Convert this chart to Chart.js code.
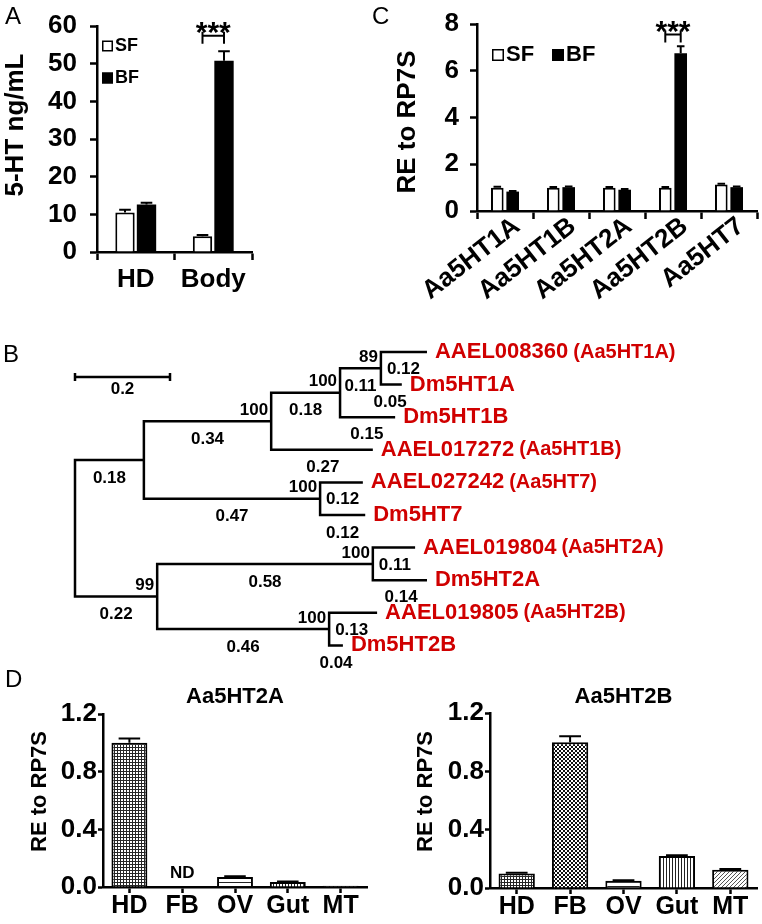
<!DOCTYPE html>
<html><head><meta charset="utf-8">
<script src="https://cdn.jsdelivr.net/npm/chart.js@4.4.0/dist/chart.umd.min.js"></script>
<style>
html,body{margin:0;padding:0;background:#fff;}
#wrap{position:relative;width:762px;height:924px;overflow:hidden;background:#fff;}
canvas{position:absolute;}
</style></head><body>
<div id="wrap">
<canvas id="cA" style="left:0px;top:0px" width="262" height="300"></canvas>
<canvas id="cC" style="left:370px;top:0px" width="392" height="310"></canvas>
<canvas id="cB" style="left:0px;top:300px" width="762" height="370"></canvas>
<canvas id="cD1" style="left:0px;top:660px" width="381" height="264"></canvas>
<canvas id="cD2" style="left:381px;top:660px" width="381" height="264"></canvas>
</div>
<script>
// ---------------- DATA ----------------
// Panel A
const catsA = ['HD', 'Body'];
const sfA = [10.5, 4.2];
const bfA = [12.6, 50.8];
const sfAErr = [0.7, 0.3];
const bfAErr = [0.5, 2.5];
const ticksA = [0, 10, 20, 30, 40, 50, 60];
const tickLabelsA = ['0', '10', '20', '30', '40', '50', '60'];
const sigACategory = 1;
const sigAValue = 57.4;
const sigAText = '***';

// Panel C
const catsC = ['Aa5HT1A', 'Aa5HT1B', 'Aa5HT2A', 'Aa5HT2B', 'Aa5HT7'];
const sfC = [1.0, 1.0, 1.0, 1.0, 1.13];
const bfC = [0.83, 1.02, 0.91, 6.75, 1.02];
const sfCErr = [0.04, 0.03, 0.03, 0.03, 0.04];
const bfCErr = [0.03, 0.03, 0.03, 0.3, 0.03];
const ticksC = [0, 2, 4, 6, 8];
const tickLabelsC = ['0', '2', '4', '6', '8'];
const sigCCategory = 3;
const sigCValue = 7.55;
const sigCText = '***';

// Panel D
const catsD = ['HD', 'FB', 'OV', 'Gut', 'MT'];
const valsD2A = [1.0, null, 0.07, 0.035, 0.008];
const errD2A = [0.03, 0, 0.005, 0.003, 0];
const ndD2A = ['', 'ND', '', '', ''];
const valsD2B = [0.10, 1.0, 0.05, 0.22, 0.125];
const errD2B = [0.005, 0.04, 0.003, 0.005, 0.005];
const ticksD = [0, 0.4, 0.8, 1.2];
const tickLabelsD = ['0.0', '0.4', '0.8', '1.2'];

// Panel B (tree): nodes, parents, drawn branch lengths (scale-bar units)
const treeNodes = ['root', 'n1', 'n2', 'n3', 'n4', 'n5', 'n6', 'n7', 'n8',
  'AAEL008360', 'Dm5HT1A', 'Dm5HT1B', 'AAEL017272', 'AAEL027242', 'Dm5HT7',
  'AAEL019804', 'Dm5HT2A', 'AAEL019805', 'Dm5HT2B'];
const treeParent = [-1, 0, 1, 2, 3, 1, 0, 6, 6, 4, 4, 3, 2, 5, 5, 7, 7, 8, 8];
const treeBranch = [0, 0.145, 0.268, 0.145, 0.086, 0.371, 0.173, 0.454, 0.362,
  0.097, 0.044, 0.116, 0.214, 0.090, 0.095, 0.089, 0.114, 0.101, 0.029];
const treeLeafOrder = [9, 10, 11, 12, 13, 14, 15, 16, 17, 18];
const treeLeafSuffix = ['(Aa5HT1A)', '', '', '(Aa5HT1B)', '(Aa5HT7)', '', '(Aa5HT2A)', '', '(Aa5HT2B)', ''];
const treeBootstrap = ['', '', '100', '100', '89', '100', '99', '100', '100',
  '', '', '', '', '', '', '', '', '', ''];
const treeLenLabel = ['', '0.18', '0.34', '0.18', '0.11', '0.47', '0.22', '0.58', '0.46',
  '', '', '0.05', '0.15', '0.27', '0.12', '', '', '0.14', '0.04'];
const treeInnerLabel = ['', '', '', '', '0.12', '0.12', '', '0.11', '0.13',
  '', '', '', '', '', '', '', '', '', ''];
const scaleBarLength = 0.2;
const scaleBarText = '0.2';

// ---------------- STYLE / LAYOUT ----------------
const FONT = '"Liberation Sans", Arial, Helvetica, sans-serif';
const RED = '#d00000';
Chart.defaults.font.family = FONT;
Chart.defaults.color = '#000';
Chart.defaults.animation = false;
Chart.defaults.plugins.legend.display = false;
Chart.defaults.plugins.tooltip.enabled = false;

function txt(ctx, s, x, y, size, o) {
  o = o || {};
  ctx.save();
  ctx.font = (o.weight || 'bold') + ' ' + size + 'px ' + FONT;
  ctx.fillStyle = o.color || '#000';
  ctx.textAlign = o.align || 'center';
  ctx.textBaseline = o.baseline || 'middle';
  ctx.translate(x, y);
  if (o.rot) ctx.rotate(o.rot);
  ctx.fillText(s, 0, 0);
  ctx.restore();
}

function xCat(o) {
  return {
    type: 'category', offset: true,
    afterFit: s => { s.height = o.h; },
    grid: { display: true, offset: o.gridOffset, drawOnChartArea: false, drawTicks: true,
      tickLength: o.tl, tickWidth: o.lw, tickColor: '#000', color: '#000' },
    border: { display: true, color: '#000', width: o.lw },
    ticks: { autoSkip: false, maxRotation: o.rot || 0, minRotation: o.rot || 0, padding: o.pad,
      labelOffset: o.lo || 0, font: { size: o.fs, weight: 'bold', lineHeight: 1 }, color: '#000' }
  };
}
function yLin(o) {
  return {
    type: 'linear', min: o.ticks[0], max: o.ticks[o.ticks.length - 1],
    afterBuildTicks: s => { s.ticks = o.ticks.map(v => ({ value: v })); },
    afterFit: s => { s.width = o.w; },
    grid: { display: true, drawOnChartArea: false, drawTicks: true,
      tickLength: o.tl, tickWidth: o.lw, tickColor: '#000', color: '#000' },
    border: { display: true, color: '#000', width: o.lw },
    ticks: { padding: o.pad, font: { size: o.fs, weight: 'bold', lineHeight: 1 }, color: '#000',
      callback: (v, i) => o.labels[i] }
  };
}
function errorPlugin(errs, capRatio) {
  return { id: 'errbars', afterDatasetsDraw(chart) {
    const ctx = chart.ctx, ys = chart.scales.y;
    errs.forEach((arr, di) => {
      const meta = chart.getDatasetMeta(di), data = chart.data.datasets[di].data;
      arr.forEach((e, j) => {
        if (!e || data[j] == null) return;
        const bar = meta.data[j];
        const y0 = ys.getPixelForValue(data[j]), y1 = ys.getPixelForValue(data[j] + e);
        const hw = bar.width * capRatio / 2;
        ctx.save(); ctx.strokeStyle = '#000'; ctx.lineWidth = 2; ctx.beginPath();
        ctx.moveTo(bar.x, y0); ctx.lineTo(bar.x, y1);
        ctx.moveTo(bar.x - hw, y1); ctx.lineTo(bar.x + hw, y1);
        ctx.stroke(); ctx.restore();
      });
    });
  } };
}
function sigPlugin(cat, val, text) {
  return { id: 'sig', afterDraw(chart) {
    const ctx = chart.ctx;
    const x0 = chart.getDatasetMeta(0).data[cat].x, x1 = chart.getDatasetMeta(1).data[cat].x;
    const y = chart.scales.y.getPixelForValue(val);
    ctx.save(); ctx.strokeStyle = '#000'; ctx.lineWidth = 2; ctx.beginPath();
    ctx.moveTo(x0, y); ctx.lineTo(x1, y);
    ctx.moveTo(x0, y - 4); ctx.lineTo(x0, y + 8);
    ctx.moveTo(x1, y - 4); ctx.lineTo(x1, y + 8);
    ctx.stroke(); ctx.restore();
    txt(ctx, text, (x0 + x1) / 2, y + 6, 30, { baseline: 'alphabetic' });
  } };
}
function legendPlugin(items, size, box) {
  return { id: 'leg', afterDraw(chart) {
    const ctx = chart.ctx;
    chart.data.datasets.forEach((ds, i) => {
      const p = items[i];
      ctx.save();
      ctx.fillStyle = ds.backgroundColor; ctx.fillRect(p.x, p.y - box / 2, box, box);
      ctx.strokeStyle = '#000'; ctx.lineWidth = 1.5; ctx.strokeRect(p.x + 0.75, p.y - box / 2 + 0.75, box - 1.5, box - 1.5);
      ctx.restore();
      txt(ctx, ds.label, p.x + box + 2, p.y, size, { align: 'left' });
    });
  } };
}
function textPlugin(fn) { return { id: 'txt', afterDraw(chart) { fn(chart, chart.ctx); } }; }

// ---------------- PANEL A ----------------
new Chart(document.getElementById('cA'), {
  type: 'bar',
  data: { labels: catsA, datasets: [
    { label: 'SF', data: sfA, backgroundColor: '#fff', borderColor: '#000', borderWidth: 2 },
    { label: 'BF', data: bfA, backgroundColor: '#000', borderColor: '#000', borderWidth: 0 }
  ] },
  options: {
    responsive: false, devicePixelRatio: 1,
    layout: { padding: { left: 0, top: 23, right: 10, bottom: 0 } },
    datasets: { bar: { categoryPercentage: 0.555, barPercentage: 0.9 } },
    scales: {
      x: xCat({ h: 48, gridOffset: true, tl: 8, lw: 2.5, pad: 7, fs: 26 }),
      y: yLin({ ticks: ticksA, labels: tickLabelsA, w: 97, tl: 7, lw: 2.5, pad: 13, fs: 26 })
    }
  },
  plugins: [errorPlugin([sfAErr, bfAErr], 0.6), sigPlugin(sigACategory, sigAValue, sigAText),
    legendPlugin([{ x: 102, y: 46 }, { x: 102, y: 78 }], 18, 11),
    textPlugin((c, ctx) => {
      txt(ctx, 'A', 5, 17, 24, { weight: 'normal', align: 'left' });
      txt(ctx, '5-HT ng/mL', 16, 125, 26, { rot: -Math.PI / 2 });
    })]
});

// ---------------- PANEL C ----------------
new Chart(document.getElementById('cC'), {
  type: 'bar',
  data: { labels: catsC, datasets: [
    { label: 'SF', data: sfC, backgroundColor: '#fff', borderColor: '#000', borderWidth: 2 },
    { label: 'BF', data: bfC, backgroundColor: '#000', borderColor: '#000', borderWidth: 0 }
  ] },
  options: {
    responsive: false, devicePixelRatio: 1,
    layout: { padding: { left: 0, top: 14, right: 5, bottom: 0 } },
    datasets: { bar: { categoryPercentage: 0.55, barPercentage: 0.82 } },
    scales: {
      x: xCat({ h: 99, gridOffset: true, tl: 8, lw: 2.5, pad: -6, fs: 26, rot: 38, lo: 12 }),
      y: yLin({ ticks: ticksC, labels: tickLabelsC, w: 107, tl: 7, lw: 2.5, pad: 11, fs: 26 })
    }
  },
  plugins: [errorPlugin([sfCErr, bfCErr], 0.6), sigPlugin(sigCCategory, sigCValue, sigCText),
    legendPlugin([{ x: 122, y: 55 }, { x: 182, y: 55 }], 22, 12),
    textPlugin((c, ctx) => {
      txt(ctx, 'C', 2, 17, 24, { weight: 'normal', align: 'left' });
      txt(ctx, 'RE to RP7S', 38, 122, 26, { rot: -Math.PI / 2 });
    })]
});

// ---------------- PANEL B (tree) ----------------
(function () {
  const n = treeNodes.length;
  const depth = new Array(n).fill(0);
  for (let i = 1; i < n; i++) depth[i] = depth[treeParent[i]] + treeBranch[i];
  const row = new Array(n).fill(null);
  treeLeafOrder.forEach((li, r) => { row[li] = r; });
  for (let i = n - 1; i >= 0; i--) {
    if (row[i] !== null) continue;
    const ch = [];
    for (let j = 0; j < n; j++) if (treeParent[j] === i) ch.push(row[j]);
    row[i] = (Math.min(...ch) + Math.max(...ch)) / 2;
  }
  const pts = [];
  for (let i = 1; i < n; i++) {
    const p = treeParent[i];
    pts.push({ x: depth[p], y: row[p] }, { x: depth[p], y: row[i] }, { x: depth[i], y: row[i] }, { x: null, y: null });
  }
  // label placement rules (layout only)
  const lenPlace = { 11: -5, 12: -6, 13: -40, 17: 24 }; // 'above' labels: dx from branch end
  new Chart(document.getElementById('cB'), {
    type: 'scatter',
    data: { datasets: [{ data: pts, showLine: true, spanGaps: false, borderColor: '#000', borderWidth: 2.5,
      pointRadius: 0, borderJoinStyle: 'miter', tension: 0 }] },
    options: {
      responsive: false, devicePixelRatio: 1,
      layout: { padding: 0 },
      scales: {
        x: { type: 'linear', display: false, min: -0.1579, max: 1.4463 },
        y: { type: 'linear', display: false, reverse: true, min: -1.595, max: 9.755 }
      }
    },
    plugins: [textPlugin((c, ctx) => {
      const xs = c.scales.x, ys = c.scales.y;
      const X = v => xs.getPixelForValue(v), Y = v => ys.getPixelForValue(v);
      treeLeafOrder.forEach((li, r) => {
        const x = X(depth[li]) + 8, y = Y(row[li]);
        ctx.save(); ctx.font = 'bold 22px ' + FONT; const w = ctx.measureText(treeNodes[li]).width; ctx.restore();
        txt(ctx, treeNodes[li], x, y, 22, { align: 'left', color: RED });
        if (treeLeafSuffix[r]) txt(ctx, treeLeafSuffix[r], x + w + 5, y, 20, { align: 'left', color: RED });
      });
      for (let i = 1; i < n; i++) {
        const p = treeParent[i];
        const xs0 = X(depth[p]), xe = X(depth[i]), y = Y(row[i]);
        if (treeBootstrap[i]) txt(ctx, treeBootstrap[i], xe - 3, y - 11, 17, { align: 'right' });
        if (treeInnerLabel[i]) txt(ctx, treeInnerLabel[i], xe + 6, y + 1, 17, { align: 'left' });
        if (treeLenLabel[i]) {
          if (lenPlace[i] !== undefined) txt(ctx, treeLenLabel[i], xe + lenPlace[i], y - 15, 17);
          else txt(ctx, treeLenLabel[i], (xs0 + xe) / 2, y + 18, 17);
        }
      }
      const sx0 = X(0), sx1 = X(scaleBarLength), sy = 77;
      ctx.save(); ctx.strokeStyle = '#000'; ctx.lineWidth = 2.5; ctx.beginPath();
      ctx.moveTo(sx0, sy); ctx.lineTo(sx1, sy);
      ctx.moveTo(sx0, sy - 4); ctx.lineTo(sx0, sy + 4);
      ctx.moveTo(sx1, sy - 4); ctx.lineTo(sx1, sy + 4);
      ctx.stroke(); ctx.restore();
      txt(ctx, scaleBarText, (sx0 + sx1) / 2, sy + 12, 17);
      txt(ctx, 'B', 3, 55, 24, { weight: 'normal', align: 'left' });
    })]
  });
})();

// ---------------- PANEL D ----------------
function makePattern(target, kind) {
  const t = document.createElement('canvas');
  let g;
  if (kind === 'mesh') {
    t.width = t.height = 3; g = t.getContext('2d');
    g.fillStyle = '#fff'; g.fillRect(0, 0, 3, 3);
    g.fillStyle = '#262626'; g.fillRect(0, 0, 3, 1); g.fillRect(0, 0, 1, 3);
  } else if (kind === 'checker') {
    t.width = t.height = 4; g = t.getContext('2d');
    g.fillStyle = '#fff'; g.fillRect(0, 0, 4, 4);
    g.fillStyle = '#111'; g.fillRect(0, 0, 2, 2); g.fillRect(2, 2, 2, 2);
  } else if (kind === 'hlines') {
    t.width = 4; t.height = 4; g = t.getContext('2d');
    g.fillStyle = '#fff'; g.fillRect(0, 0, 4, 4);
    g.fillStyle = '#222'; g.fillRect(0, 2, 4, 1);
  } else if (kind === 'vlines') {
    t.width = 3; t.height = 3; g = t.getContext('2d');
    g.fillStyle = '#fff'; g.fillRect(0, 0, 3, 3);
    g.fillStyle = '#222'; g.fillRect(0, 0, 1, 3);
  } else {
    t.width = t.height = 4; g = t.getContext('2d');
    g.fillStyle = '#fff'; g.fillRect(0, 0, 4, 4);
    g.fillStyle = '#555';
    for (let i = 0; i < 4; i++) g.fillRect(i, 3 - i, 1, 1);
  }
  return target.getContext('2d').createPattern(t, 'repeat');
}
const patternKindsD = ['mesh', 'checker', 'hlines', 'vlines', 'diag'];

function panelD(id, vals, errs, nd, title, o) {
  const cv = document.getElementById(id);
  const pats = patternKindsD.map(k => makePattern(cv, k));
  new Chart(cv, {
    type: 'bar',
    data: { labels: catsD, datasets: [
      { label: title, data: vals, backgroundColor: pats, borderColor: '#000', borderWidth: 2 }
    ] },
    options: {
      responsive: false, devicePixelRatio: 1,
      layout: { padding: { left: 0, top: o.top, right: o.right, bottom: 0 } },
      datasets: { bar: { categoryPercentage: 1, barPercentage: 0.68 } },
      scales: {
        x: xCat({ h: o.xh, gridOffset: false, tl: 6, lw: 2.5, pad: 1, fs: 25 }),
        y: yLin({ ticks: ticksD, labels: tickLabelsD, w: o.yw, tl: 5, lw: 2.5, pad: 1, fs: 26 })
      }
    },
    plugins: [errorPlugin([errs], 0.6), textPlugin((c, ctx) => {
      const a = c.chartArea;
      txt(ctx, title, (a.left + a.right) / 2, 37, 22);
      txt(ctx, 'RE to RP7S', o.tx, (a.top + a.bottom) / 2 - 9, 22, { rot: -Math.PI / 2 });
      nd.forEach((s, j) => { if (s) txt(ctx, s, c.scales.x.getPixelForValue(j), c.scales.y.getPixelForValue(0) - 14, 17); });
      if (o.panel) txt(ctx, o.panel, 5, 20, 24, { weight: 'normal', align: 'left' });
    })]
  });
}
panelD('cD1', valsD2A, errD2A, ndD2A, 'Aa5HT2A', { top: 54, right: 14, xh: 37, yw: 103, tx: 40, panel: 'D' });
panelD('cD2', valsD2B, errD2B, ['', '', '', '', ''], 'Aa5HT2B', { top: 53, right: 5, xh: 36, yw: 109, tx: 45, panel: '' });
</script>
</body></html>
